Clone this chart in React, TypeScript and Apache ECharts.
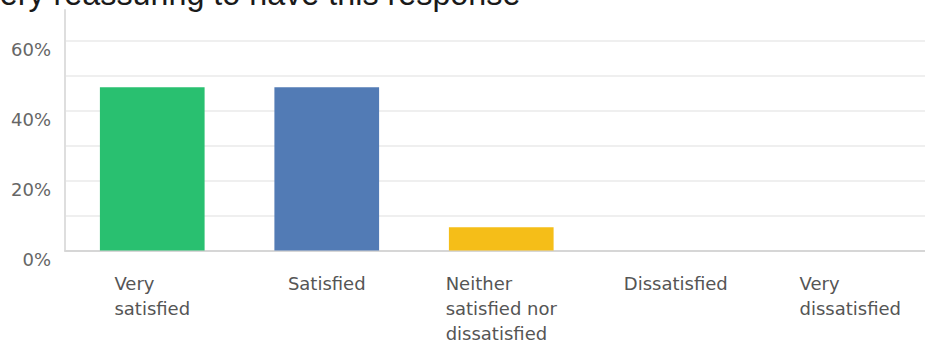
import React, { useEffect, useRef } from "react";
import * as echarts from "echarts";

const titleText = "Very reassuring to have this response";
const categories = [
  "Very\nsatisfied",
  "Satisfied",
  "Neither\nsatisfied nor\ndissatisfied",
  "Dissatisfied",
  "Very\ndissatisfied",
];
const values = [46.67, 46.67, 6.67, 0, 0];
const barColors = ["#29c070", "#527bb5", "#f5be18", "#f06b5e", "#8a8a8a"];
const yTickStep = 10;
const yLabelStep = 20;
const yMax = 68.8;

export default function App() {
  const ref = useRef<HTMLDivElement>(null);
  useEffect(() => {
    if (!ref.current) return;
    const chart = echarts.init(ref.current, null, { renderer: "svg" });
    const font = "DejaVu Sans";
    chart.setOption({
      animation: false,
      backgroundColor: "#ffffff",
      graphic: [
        {
          type: "text",
          x: -20,
          y: -6,
          style: {
            text: titleText,
            font: "32.3px 'Liberation Sans', Arial, sans-serif",
            fill: "#1a1a1a",
            verticalAlign: "middle",
            align: "left",
          },
        },
      ],
      grid: {
        left: 65,
        width: 872.5,
        top: 10,
        bottom: 91.5,
        containLabel: false,
        outerBoundsMode: "none",
      },
      xAxis: {
        type: "category",
        data: categories,
        axisTick: { show: false },
        axisLine: { show: true, lineStyle: { color: "#d6d6d6", width: 2 } },
        axisLabel: {
          interval: 0,
          align: "center",
          margin: 20,
          formatter: (v: string) =>
            v
              .split("\n")
              .map((l) => `{a|${l}}`)
              .join("\n"),
          rich: {
            a: {
              align: "left",
              fontSize: 18,
              lineHeight: 25,
              color: "#555555",
              fontFamily: font,
            },
          },
        },
      },
      yAxis: {
        type: "value",
        min: 0,
        max: yMax,
        interval: yTickStep,
        axisLine: { show: true, lineStyle: { color: "#dedede", width: 2 } },
        axisTick: { show: false },
        splitLine: {
          show: true,
          showMaxLine: false,
          lineStyle: { color: "#efefef", width: 2 },
        },
        axisLabel: {
          margin: 14,
          fontSize: 18,
          fontFamily: font,
          color: "#666666",
          verticalAlign: "top",
          showMaxLabel: false,
          formatter: (v: number) =>
            Math.abs(v % yLabelStep) < 1e-6 ? `${v}%` : "",
        },
      },
      series: [
        {
          type: "bar",
          barWidth: "60%",
          data: values.map((v, i) => ({
            value: v,
            itemStyle: { color: barColors[i] },
          })),
        },
      ],
    });
    return () => chart.dispose();
  }, []);
  return (
    <div
      ref={ref}
      style={{ position: "fixed", left: 0, top: 0, width: 925, height: 342 }}
    />
  );
}
